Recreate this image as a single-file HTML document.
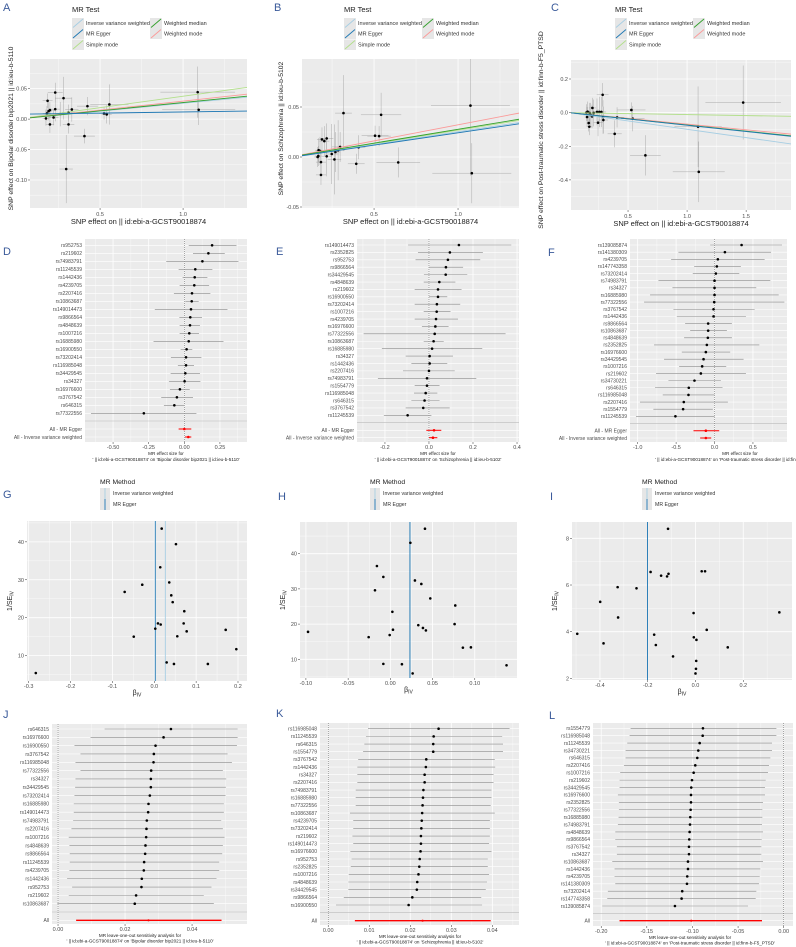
<!DOCTYPE html>
<html><head><meta charset="utf-8"><style>
html,body{margin:0;padding:0;background:#fff;}
svg{display:block;font-family:"Liberation Sans",sans-serif;}
</style></head><body>
<svg id="fig" width="796" height="947" viewBox="0 0 796 947" xmlns="http://www.w3.org/2000/svg"></svg>
<script>
// ---------- Scatter data ----------
const aX=[0.174,0.18,0.184,0.19,0.198,0.198,0.22,0.23,0.23,0.26,0.28,0.31,0.31,0.33,0.296,0.406,0.424,0.524,0.556,0.54,1.088,1.094];
const aY=[0.0011,0.0093,0.0301,0.0131,0.0148,-0.0087,0.0027,0.0437,0.0164,0.0082,0.0344,0.0109,-0.0087,0.0158,-0.082,-0.0279,0.0213,0.0093,0.024,0.0077,0.0443,0.0153];
const aXse=[0.02,0.025,0.03,0.02,0.03,0.025,0.03,0.045,0.03,0.03,0.05,0.04,0.035,0.04,0.04,0.063,0.063,0.03,0.115,0.03,0.225,0.22];
const aYse=[0.012,0.012,0.012,0.015,0.013,0.014,0.013,0.016,0.02,0.02,0.035,0.013,0.015,0.02,0.056,0.012,0.015,0.01,0.033,0.015,0.042,0.025];
const aSlope=[0.026,0.0038,0.0375,0.0272,0.0296];
const aInt=[0,0.0079,0,0,0];

const bX=[0.164,0.17,0.178,0.184,0.184,0.19,0.204,0.218,0.218,0.248,0.264,0.286,0.298,0.318,0.394,0.408,0.506,0.53,0.542,0.644,1.074,1.082,0.168,0.27];
const bY=[0,0.0068,0.0061,-0.0051,-0.0179,0.0176,0.0159,0.0007,0.0186,0.003,-0.0024,0.0068,0.0101,0.0439,-0.0068,0.0098,0.0213,0.0209,0.0422,-0.0054,0.0514,-0.0162,0.001,0.005];
const bXse=[0.02,0.02,0.025,0.03,0.03,0.03,0.03,0.03,0.04,0.04,0.04,0.04,0.05,0.05,0.05,0.04,0.08,0.07,0.12,0.13,0.235,0.235,0.02,0.03];
const bYse=[0.01,0.012,0.014,0.012,0.01,0.012,0.015,0.02,0.015,0.03,0.035,0.03,0.015,0.038,0.01,0.012,0.01,0.01,0.022,0.015,0.07,0.03,0.01,0.02];
const bSlope=[0.0253,0.0247,0.0268,0.0277,0.0322];
const bInt=[0,-0.0005,0,0,0];

const cX=[0.147,0.153,0.158,0.167,0.172,0.175,0.181,0.195,0.198,0.209,0.237,0.246,0.257,0.274,0.285,0.288,0.291,0.387,0.407,0.528,0.54,0.647,1.093,1.099,1.475];
const cY=[0,-0.026,0.006,-0.062,-0.084,-0.002,-0.012,-0.022,0.028,-0.002,0.004,-0.06,0.004,0.004,0.106,-0.026,-0.044,-0.126,-0.028,0.016,-0.036,-0.254,-0.084,-0.352,0.06];
const cXse=[0.02,0.02,0.02,0.02,0.02,0.02,0.03,0.03,0.03,0.03,0.04,0.04,0.04,0.04,0.05,0.04,0.04,0.06,0.06,0.12,0.1,0.13,0.2,0.22,0.32];
const cYse=[0.05,0.06,0.06,0.05,0.05,0.06,0.07,0.07,0.06,0.08,0.08,0.08,0.09,0.09,0.07,0.1,0.08,0.08,0.06,0.045,0.075,0.12,0.24,0.18,0.22];
const cSlope=[-0.099,-0.075,-0.0117,-0.0734,-0.068];
const cInt=[0,0,0,0,0];

// ---------- Forest data ----------
const dNames=["rs952753","rs219602","rs74983791","rs11245539","rs1442436","rs4239705","rs2207416","rs10863687","rs149014473","rs9866564","rs4848639","rs1007216","rs16885980","rs16900550","rs73202414","rs116985048","rs34429545","rs34327","rs16976600","rs3767542","rs646315","rs77322556"];
const dEst=[0.195,0.169,0.127,0.077,0.073,0.07,0.054,0.052,0.047,0.042,0.04,0.035,0.031,0.016,0.012,0.012,0.007,0.002,-0.031,-0.052,-0.07,-0.284];
const dLo=[0.031,0.061,-0.127,-0.04,-0.012,-0.033,-0.073,0.007,-0.207,-0.035,-0.033,-0.033,-0.216,-0.026,-0.094,-0.045,-0.096,-0.108,-0.101,-0.162,-0.143,-0.655];
const dHi=[0.366,0.284,0.38,0.197,0.162,0.174,0.183,0.101,0.303,0.124,0.11,0.103,0.275,0.056,0.12,0.068,0.11,0.113,0.038,0.061,0,0.085];
const dSumNames=["All - MR Egger","All - Inverse variance weighted"];
const dSumEst=[0,0.028];const dSumLo=[-0.04,0.005];const dSumHi=[0.049,0.049];

const eNames=["rs149014473","rs2352825","rs952753","rs9866564","rs34429545","rs4848639","rs219602","rs16900550","rs73202414","rs1007216","rs4239705","rs16976600","rs77322556","rs10863687","rs16885980","rs34327","rs1442436","rs2207416","rs74983791","rs1554779","rs116985048","rs646315","rs3767542","rs11245539"];
const eEst=[0.136,0.095,0.086,0.077,0.076,0.047,0.041,0.041,0.036,0.035,0.032,0.029,0.026,0.021,0.014,0.003,0.003,0,-0.009,-0.009,-0.015,-0.02,-0.026,-0.097];
const eLo=[-0.095,-0.05,-0.061,0,-0.023,-0.024,-0.065,0,-0.065,-0.024,-0.065,-0.032,-0.297,-0.024,-0.214,-0.106,-0.08,-0.118,-0.232,-0.065,-0.068,-0.08,-0.106,-0.205];
const eHi=[0.374,0.245,0.233,0.155,0.174,0.12,0.148,0.083,0.142,0.098,0.132,0.089,0.348,0.067,0.242,0.109,0.083,0.117,0.215,0.048,0.038,0.048,0.094,0.011];
const eSumNames=["All - MR Egger","All - Inverse variance weighted"];
const eSumEst=[0.023,0.018];const eSumLo=[-0.012,0];const eSumHi=[0.056,0.038];

const fNames=["rs139085874","rs141380309","rs4239705","rs147743358","rs73202414","rs74983791","rs34327","rs16885980","rs77322556","rs3767542","rs1442436","rs9866564","rs10863687","rs4848639","rs2352825","rs16976600","rs34429545","rs1007216","rs219602","rs34730221","rs646315","rs116985048","rs2207416","rs1554779","rs11245539"];
const fEst=[0.352,0.135,0.043,0.03,0.017,0,0,0,-0.004,-0.013,-0.013,-0.083,-0.083,-0.087,-0.1,-0.113,-0.143,-0.161,-0.178,-0.261,-0.335,-0.339,-0.4,-0.409,-0.509];
const fLo=[-0.057,-0.47,-0.565,-0.265,-0.283,-0.73,-0.548,-0.839,-0.917,-0.535,-0.491,-0.383,-0.317,-0.396,-0.787,-0.426,-0.657,-0.461,-0.761,-0.6,-0.774,-0.674,-0.97,-0.796,-1.022];
const fHi=[0.878,0.735,0.652,0.343,0.322,0.726,0.543,0.835,0.909,0.522,0.409,0.226,0.161,0.226,0.583,0.204,0.378,0.152,0.409,0.083,0.104,0,0.174,-0.022,0];
const fSumNames=["All - MR Egger","All - Inverse variance weighted"];
const fSumEst=[-0.113,-0.113];const fSumLo=[-0.274,-0.187];const fSumHi=[0.061,-0.043];

// ---------- Funnel data ----------
const gBeta=[-0.283,-0.0707,-0.049,-0.0287,0.0024,0.0088,0.0153,0.0143,0.0177,0.0358,0.0406,0.044,0.0518,0.055,0.0717,0.0702,0.0774,0.1706,0.196,0.0296,0.047,0.128];
const gInv=[5.4,26.8,15.0,28.7,17.1,18.5,18.2,33.3,43.5,29.3,25.9,24.1,39.4,15.1,21.7,18.5,16.4,16.8,11.7,8.2,7.8,7.8];
const gLines=[0.0264,0.0024];
const hBeta=[-0.0975,-0.0257,-0.0159,-0.0083,-0.0182,0.0024,0.0031,-0.0008,-0.0083,0.0137,0.0237,0.041,0.0291,0.0367,0.0473,0.0331,0.0386,0.0421,0.0264,0.0769,0.0761,0.0859,0.0954,0.1376];
const hInv=[17.8,16.3,36.5,33.4,29.6,23.5,18.4,16.9,8.7,8.6,43.1,47.1,32.4,31.4,27.3,19.7,18.9,18.2,6.0,25.3,20.0,13.3,13.4,8.3];
const hLines=[0.0232,0.0232];
const iBeta=[-0.495,-0.385,-0.399,-0.326,-0.324,-0.247,-0.188,-0.166,-0.173,-0.144,-0.119,-0.113,-0.115,-0.094,-0.008,-0.007,0.004,0.003,0.002,0.0,0.026,0.04,0.047,0.135,0.351];
const iInv=[3.91,3.5,5.28,5.91,4.61,5.86,6.56,3.43,3.87,6.4,6.37,6.48,8.41,2.94,4.8,3.76,3.65,2.75,2.41,2.21,6.59,6.59,4.08,3.33,4.83];
const iLines=[-0.201,-0.201];

// ---------- Leave-one-out data ----------
const jNames=["rs646315","rs16976600","rs16900550","rs3767542","rs116985048","rs77322556","rs34327","rs34429545","rs73202414","rs16885980","rs149014473","rs74983791","rs2207416","rs1007216","rs4848639","rs9866564","rs11245539","rs4239705","rs1442436","rs952753","rs219602","rs10863687"];
const jEst=[.0337,.0315,.0291,.0286,.0285,.0278,.0277,.0277,.0274,.027,.0269,.0265,.0264,.0263,.0261,.026,.0257,.0256,.025,.0249,.0233,.0229];
const jLo=[.0139,.0097,.0049,.0067,.0052,.0067,.0052,.0051,.0049,.0047,.0047,.0045,.004,.0032,.0034,.0035,.0035,.0034,.0027,.0042,.0032,-.0002];
const jHi=[.0536,.0536,.0534,.0506,.0519,.0492,.0502,.0501,.05,.0495,.0495,.0487,.0492,.0497,.0492,.049,.0481,.0481,.0473,.0458,.0435,.0465];
const jAll=[.027,.0054,.0488];

const kNames=["rs116985048","rs11245539","rs646315","rs1554779","rs3767542","rs1442436","rs34327","rs2207416","rs74983791","rs16885980","rs77322556","rs10863687","rs4239705","rs73202414","rs219602","rs149014473","rs16976600","rs952753","rs2352825","rs1007216","rs4848639","rs34429545","rs9866564","rs16900550"];
const kEst=[.0269,.0257,.0256,.0256,.0239,.0238,.0235,.0235,.0232,.0231,.023,.0229,.0228,.0227,.0226,.0226,.0225,.0223,.0222,.022,.0217,.0216,.0205,.0196];
const kLo=[.0097,.0092,.0088,.0085,.0073,.0071,.0071,.0071,.0067,.0067,.0067,.0053,.0061,.0061,.0059,.0061,.0054,.0057,.0055,.005,.0049,.0049,.0038,.0019];
const kHi=[.0442,.0424,.0426,.0426,.0406,.0407,.0403,.0403,.0398,.0398,.0396,.0406,.0394,.0394,.0394,.0392,.0398,.0389,.0389,.0392,.0387,.0384,.0373,.0375];
const kAll=[.023,.0065,.0396];

const lNames=["rs1554779","rs116985048","rs11245539","rs34730221","rs646315","rs2207416","rs1007216","rs219602","rs34429545","rs16976600","rs2352825","rs77322556","rs16885980","rs74983791","rs4848639","rs9866564","rs3767542","rs34327","rs10863687","rs1442436","rs4239705","rs141380309","rs73202414","rs147743358","rs139085874"];
const lEst=[-.0885,-.0888,-.0921,-.0936,-.0947,-.0969,-.0987,-.1005,-.1013,-.1016,-.1016,-.102,-.1024,-.1027,-.1031,-.1035,-.1038,-.1038,-.1049,-.1049,-.1057,-.106,-.1112,-.1119,-.1192];
const lLo=[-.1678,-.1689,-.1715,-.1733,-.1733,-.1751,-.1792,-.1799,-.1799,-.1817,-.1806,-.1806,-.181,-.1817,-.1846,-.1846,-.1828,-.1828,-.1879,-.1854,-.1854,-.1846,-.1927,-.1934,-.1989];
const lHi=[-.008,-.008,-.0128,-.0128,-.0146,-.0161,-.0172,-.0197,-.0205,-.0205,-.0227,-.0234,-.0234,-.0238,-.0227,-.0241,-.0245,-.0245,-.0227,-.0256,-.0263,-.0271,-.03,-.0307,-.0391];
const lAll=[-.1013,-.1799,-.0238];

// ---------- Tick arrays ----------
const aXt=[0.5,1.0],aXl=["0.5","1.0"],aYt=[-0.1,-0.05,0,0.05],aYl=["-0.10","-0.05","0.00","0.05"];
const bXt=[0.5,1.0],bXl=["0.5","1.0"],bYt=[-0.05,0,0.05],bYl=["-0.05","0.00","0.05"];
const cXt=[0.5,1.0,1.5],cXl=["0.5","1.0","1.5"],cYt=[-0.4,-0.2,0,0.2],cYl=["-0.4","-0.2","0.0","0.2"];
const dXt=[-0.5,-0.25,0,0.25],dXl=["-0.50","-0.25","0.00","0.25"];
const eXt=[-0.2,0,0.2,0.4],eXl=["-0.2","0.0","0.2","0.4"];
const fXt=[-1,-0.5,0,0.5],fXl=["-1.0","-0.5","0.0","0.5"];
const gXt=[-0.3,-0.2,-0.1,0,0.1,0.2],gXl=["-0.3","-0.2","-0.1","0.0","0.1","0.2"],gYt=[10,20,30,40],gYl=["10","20","30","40"];
const hXt=[-0.1,-0.05,0,0.05,0.1],hXl=["-0.10","-0.05","0.00","0.05","0.10"],hYt=[10,20,30,40],hYl=["10","20","30","40"];
const iXt=[-0.4,-0.2,0,0.2],iXl=["-0.4","-0.2","0.0","0.2"],iYt=[2,4,6,8],iYl=["2","4","6","8"];
const jXt=[0,0.02,0.04],jXl=["0.00","0.02","0.04"];
const kXt=[0,0.01,0.02,0.03,0.04],kXl=["0.00","0.01","0.02","0.03","0.04"];
const lXt=[-0.2,-0.15,-0.1,-0.05,0],lXl=["-0.20","-0.15","-0.10","-0.05","0.00"];

const NS="http://www.w3.org/2000/svg";
const svg=document.getElementById('fig');
function mk(tag,attrs,parent){const e=document.createElementNS(NS,tag);for(const k in attrs)e.setAttribute(k,attrs[k]);(parent||svg).appendChild(e);return e;}
function txt(s,x,y,size,anchor,fill,parent){const t=mk('text',{x:x,y:y,'font-size':size,'text-anchor':anchor||'start',fill:fill||'#4d4d4d'},parent);t.textContent=s;return t;}
function lin(d0,d1,r0,r1){return v=>r0+(v-d0)*(r1-r0)/(d1-d0);}
function minors(t,d0,d1){const m=[];const lo=Math.min(d0,d1),hi=Math.max(d0,d1);for(let i=0;i<t.length-1;i++)m.push((t[i]+t[i+1])/2);if(t.length>1){const s=t[1]-t[0];m.push(t[0]-s/2);m.push(t[t.length-1]+s/2);}return m.filter(v=>v>lo&&v<hi);}
let clipId=0;
function panel(name,x0,y0,x1,y1){const g=mk('g',{});
 const r=mk('rect',{x:x0,y:y0,width:x1-x0,height:y1-y0,fill:'#EBEBEB'},g);
 const id='c'+(clipId++);const cp=mk('clipPath',{id:id},g);mk('rect',{x:x0,y:y0,width:x1-x0,height:y1-y0},cp);
 const inner=mk('g',{'clip-path':'url(#'+id+')'},g);return {g:g,inner:inner};}
function letter(s,x,y){const t=txt(s,x,y,11,'start','#3a5a9a');}
function vgrid(p,xs,xt,d0,d1,y0,y1){minors(xt,d0,d1).forEach(v=>mk('line',{x1:xs(v),x2:xs(v),y1:y0,y2:y1,stroke:'#fff','stroke-width':0.35},p.inner));xt.forEach(v=>mk('line',{x1:xs(v),x2:xs(v),y1:y0,y2:y1,stroke:'#fff','stroke-width':0.8},p.inner));}
function hgrid(p,ys,yt,d0,d1,x0,x1){minors(yt,d0,d1).forEach(v=>mk('line',{x1:x0,x2:x1,y1:ys(v),y2:ys(v),stroke:'#fff','stroke-width':0.35},p.inner));yt.forEach(v=>mk('line',{x1:x0,x2:x1,y1:ys(v),y2:ys(v),stroke:'#fff','stroke-width':0.8},p.inner));}
function xticks(xs,xt,xl,y1,ty){xt.forEach((v,i)=>{mk('line',{x1:xs(v),x2:xs(v),y1:y1,y2:y1+2,stroke:'#333','stroke-width':0.5});const t=txt(xl[i],xs(v),ty,5.5,'middle');});}
function yticks(ys,yt,yl,x0){yt.forEach((v,i)=>{mk('line',{x1:x0-2,x2:x0,y1:ys(v),y2:ys(v),stroke:'#333','stroke-width':0.5});const t=txt(yl[i],x0-3,ys(v)+2,5.5,'end');});}
function vtitle(s,x,y,size){const t=mk('text',{x:0,y:0,'font-size':size,'text-anchor':'middle',fill:'#222',transform:'translate('+x+','+y+') rotate(-90)'});t.textContent=s;return t;}

const COLS=['#a6cee3','#1f78b4','#b2df8a','#33a02c','#fb9a99'];
const LNAMES=['Inverse variance weighted','MR Egger','Simple mode','Weighted median','Weighted mode'];

function scatterLegend(x,y,c2){const t=txt('MR Test',x,y,7.5,'start','#222');
 const pos=[[x,y+12],[x,y+22.5],[x,y+33.5],[c2,y+12],[c2,y+22.5]];
 pos.forEach((p,i)=>{const g=mk('g',{});
  mk('rect',{x:p[0],y:p[1]-6,width:12,height:10.5,fill:'#e6e6e6'},g);
  mk('line',{x1:p[0]+1,y1:p[1]+3.5,x2:p[0]+11,y2:p[1]-5,stroke:COLS[i],'stroke-width':0.9},g);
  txt(LNAMES[i],p[0]+14,p[1]+1,5.5,'start','#333',g);});}

function scatter(name,px0,py0,px1,py1,xd,yd,X,Y,Xse,Yse,sl,ic,xt,xl,yt,yl,ytitle,ytx){
 const p=panel(name,px0,py0,px1,py1);const xs=lin(xd[0],xd[1],px0,px1),ys=lin(yd[0],yd[1],py1,py0);
 vgrid(p,xs,xt,xd[0],xd[1],py0,py1);hgrid(p,ys,yt,yd[0],yd[1],px0,px1);
 X.forEach((v,i)=>{const e1=mk('line',{x1:xs(v-Xse[i]),x2:xs(v+Xse[i]),y1:ys(Y[i]),y2:ys(Y[i]),stroke:'#9a9a9a','stroke-width':0.5,opacity:0.8},p.inner);
  const e2=mk('line',{x1:xs(v),x2:xs(v),y1:ys(Y[i]-Yse[i]),y2:ys(Y[i]+Yse[i]),stroke:'#9a9a9a','stroke-width':0.5,opacity:0.8},p.inner);});
 X.forEach((v,i)=>{const c=mk('circle',{cx:xs(v),cy:ys(Y[i]),r:1.3,fill:'#000'},p.inner);});
 [0,2,4,3,1].forEach(k=>{const l=mk('line',{x1:xs(xd[0]),x2:xs(xd[1]),y1:ys(ic[k]+sl[k]*xd[0]),y2:ys(ic[k]+sl[k]*xd[1]),stroke:COLS[k],'stroke-width':0.9},p.inner);});
 xticks(xs,xt,xl,py1,py1+8);yticks(ys,yt,yl,px0);
 const t=txt('SNP effect on  || id:ebi-a-GCST90018874',(px0+px1)/2,py1+16,7.5,'middle','#222');
 vtitle(ytitle,ytx,(py0+py1)/2-5,6.8);}

function forest(name,px0,py0,px1,py1,xd,names,est,lo,hi,snames,sest,slo,shi,firstY,lastY,sepY,sumY,xt,xl,cap2,capX){
 const p=panel(name,px0,py0,px1,py1);const xs=lin(xd[0],xd[1],px0,px1);
 vgrid(p,xs,xt,xd[0],xd[1],py0,py1);
 const n=names.length,step=(lastY-firstY)/(n-1);
 const ry=i=>firstY+i*step;
 for(let i=0;i<n;i++)mk('line',{x1:px0,x2:px1,y1:ry(i),y2:ry(i),stroke:'#fff','stroke-width':0.6},p.inner);
 sumY.forEach(y=>mk('line',{x1:px0,x2:px1,y1:y,y2:y,stroke:'#fff','stroke-width':0.6},p.inner));
 mk('line',{x1:px0,x2:px1,y1:sepY,y2:sepY,stroke:'#bbb','stroke-width':0.6},p.inner);
 mk('line',{x1:xs(0),x2:xs(0),y1:py0,y2:py1,stroke:'#555','stroke-width':0.5,'stroke-dasharray':'1,1'},p.inner);
 names.forEach((nm,i)=>{const y=ry(i);const b=mk('line',{x1:xs(lo[i]),x2:xs(hi[i]),y1:y,y2:y,stroke:'#8a8a8a','stroke-width':0.6},p.inner);
  const c=mk('circle',{cx:xs(est[i]),cy:y,r:1.3,fill:'#000'},p.inner);
  const t=txt(nm,px0-3,y+1.8,5,'end');});
 snames.forEach((nm,i)=>{const y=sumY[i];const b=mk('line',{x1:xs(slo[i]),x2:xs(shi[i]),y1:y,y2:y,stroke:'#f00','stroke-width':1},p.inner);
  const c=mk('circle',{cx:xs(sest[i]),cy:y,r:1.3,fill:'#f00'},p.inner);
  const t=txt(nm,px0-3,y+1.8,5,'end');});
 xticks(xs,xt,xl,py1,py1+7);
 const t1=txt('MR effect size for',capX,py1+13,4.6,'middle','#222');
 const t2=txt(cap2,capX,py1+19,4.6,'middle','#222');}

function funnelLegend(x,y){const t=txt('MR Method',x,y,6.8,'start','#222');
 ['Inverse variance weighted','MR Egger'].forEach((s,i)=>{const g=mk('g',{});
  mk('rect',{x:x,y:y+4+i*11,width:10,height:11,fill:'#e6e6e6'},g);
  mk('line',{x1:x+5,x2:x+5,y1:y+4+i*11,y2:y+15+i*11,stroke:COLS[i],'stroke-width':0.9},g);
  txt(s,x+13,y+11+i*11,5.2,'start','#333',g);});}

function funnel(name,px0,py0,px1,py1,xd,yd,B,V,lines,xt,xl,yt,yl){
 const p=panel(name,px0,py0,px1,py1);const xs=lin(xd[0],xd[1],px0,px1),ys=lin(yd[0],yd[1],py1,py0);
 vgrid(p,xs,xt,xd[0],xd[1],py0,py1);hgrid(p,ys,yt,yd[0],yd[1],px0,px1);
 lines.forEach((v,i)=>{const l=mk('line',{x1:xs(v),x2:xs(v),y1:py0,y2:py1,stroke:COLS[i],'stroke-width':0.9},p.inner);});
 B.forEach((v,i)=>{const c=mk('circle',{cx:xs(v),cy:ys(V[i]),r:1.3,fill:'#000'},p.inner);});
 xticks(xs,xt,xl,py1,py1+7);yticks(ys,yt,yl,px0);
 const t=mk('text',{x:(px0+px1)/2,y:py1+14,'font-size':7,'text-anchor':'middle',fill:'#222'});t.innerHTML='β<tspan font-size="5" dy="1.5">IV</tspan>';
 const v=mk('text',{x:0,y:0,'font-size':7,'text-anchor':'middle',fill:'#222',transform:'translate('+(px0-15)+','+((py0+py1)/2)+') rotate(-90)'});v.innerHTML='1/SE<tspan font-size="5" dy="1.5">IV</tspan>';}

function loo(name,px0,py0,px1,py1,xd,names,est,lo,hi,all,firstY,lastY,sepY,allY,xt,xl,cap2,capX){
 const p=panel(name,px0,py0,px1,py1);const xs=lin(xd[0],xd[1],px0,px1);
 vgrid(p,xs,xt,xd[0],xd[1],py0,py1);
 const n=names.length,step=(lastY-firstY)/(n-1);const ry=i=>firstY+i*step;
 for(let i=0;i<n;i++)mk('line',{x1:px0,x2:px1,y1:ry(i),y2:ry(i),stroke:'#fff','stroke-width':0.6},p.inner);
 mk('line',{x1:px0,x2:px1,y1:allY,y2:allY,stroke:'#fff','stroke-width':0.6},p.inner);
 mk('line',{x1:px0,x2:px1,y1:sepY,y2:sepY,stroke:'#bbb','stroke-width':0.6},p.inner);
 mk('line',{x1:xs(0),x2:xs(0),y1:py0,y2:py1,stroke:'#555','stroke-width':0.5,'stroke-dasharray':'1,1'},p.inner);
 names.forEach((nm,i)=>{const y=ry(i);const b=mk('line',{x1:xs(lo[i]),x2:xs(hi[i]),y1:y,y2:y,stroke:'#8a8a8a','stroke-width':0.6},p.inner);
  const c=mk('circle',{cx:xs(est[i]),cy:y,r:1.3,fill:'#000'},p.inner);
  const t=txt(nm,px0-3,y+1.8,5,'end');});
 const b=mk('line',{x1:xs(all[1]),x2:xs(all[2]),y1:allY,y2:allY,stroke:'#f00','stroke-width':1.4},p.inner);
 const c=mk('circle',{cx:xs(all[0]),cy:allY,r:1.1,fill:'#f00'},p.inner);
 const t=txt('All',px0-3,allY+1.8,5,'end');
 xticks(xs,xt,xl,py1,py1+7);
 const t1=txt('MR leave-one-out sensitivity analysis for',capX,py1+13,4.6,'middle','#222');
 const t2=txt(cap2,capX,py1+18.5,4.6,'middle','#222');}

// ---- Row 1 ----
letter('A',3,11);letter('B',274,11);letter('C',551,11);
scatterLegend(72,12,150);scatterLegend(344,12,422);scatterLegend(615,12,693);
scatter('scatter-a',30,59,247,208,[0.078,1.385],[-0.146,0.0987],aX,aY,aXse,aYse,aSlope,aInt,aXt,aXl,aYt,aYl,'SNP effect on Bipolar disorder bip2021 || id:ieu-b-5110',13);
scatter('scatter-b',302,59,519,208,[0.071,1.363],[-0.051,0.098],bX,bY,bXse,bYse,bSlope,bInt,bXt,bXl,bYt,bYl,'SNP effect on Schizophrenia || id:ieu-b-5102',283);
scatter('scatter-c',571,60,791,210,[0.017,1.88],[-0.579,0.313],cX,cY,cXse,cYse,cSlope,cInt,cXt,cXl,cYt,cYl,'SNP effect on Post-traumatic stress disorder || id:finn-b-F5_PTSD',543);

// ---- Row 2 ----
letter('D',3,255);letter('E',276,255);letter('F',548,256);
forest('forest-d',85,239,247,442,[-0.697,0.44],dNames,dEst,dLo,dHi,dSumNames,dSumEst,dSumLo,dSumHi,245.3,413.3,421,[429,437],dXt,dXl,"' || id:ebi-a-GCST90018874' on 'Bipolar disorder bip2021 || id:ieu-b-5110'",166);
forest('forest-e',357,239,519,442,[-0.327,0.409],eNames,eEst,eLo,eHi,eSumNames,eSumEst,eSumLo,eSumHi,245,415.3,422.7,[430.3,437.7],eXt,eXl,"' || id:ebi-a-GCST90018874' on 'Schizophrenia || id:ieu-b-5102'",438);
forest('forest-f',630,239,787,442,[-1.1,0.943],fNames,fEst,fLo,fHi,fSumNames,fSumEst,fSumLo,fSumHi,245,416.3,423.3,[430.7,438],fXt,fXl,"' || id:ebi-a-GCST90018874' on 'Post-traumatic stress disorder || id:finn-b-F5_PTSD'",740);

// ---- Row 3 ----
letter('G',3,498);letter('H',278,500);letter('I',550,500);
funnelLegend(100,484);funnelLegend(370,484);funnelLegend(642,484);
funnel('funnel-g',27,521,247,681,[-0.304,0.2215],[3.3,45.5],gBeta,gInv,gLines,gXt,gXl,gYt,gYl);
funnel('funnel-h',300,522,517,678,[-0.107,0.15],[4.69,49.0],hBeta,hInv,hLines,hXt,hXl,hYt,hYl);
funnel('funnel-i',572,522,792,680,[-0.517,0.404],[1.93,8.70],iBeta,iInv,iLines,iXt,iXl,iYt,iYl);

// ---- Row 4 ----
letter('J',3,718);letter('K',276,717);letter('L',549,719);
loo('loo-j',52,724,247,924,[-0.0018,0.0564],jNames,jEst,jLo,jHi,jAll,729,903.7,912,920.3,jXt,jXl,"' || id:ebi-a-GCST90018874' on 'Bipolar disorder bip2021 || id:ieu-b-5110'",140);
loo('loo-k',320,723,519,925,[-0.002,0.0465],kNames,kEst,kLo,kHi,kAll,728.7,905,912.3,920.7,kXt,kXl,"' || id:ebi-a-GCST90018874' on 'Schizophrenia || id:ieu-b-5102'",420);
loo('loo-l',593,723,793,926,[-0.209,0.0102],lNames,lEst,lLo,lHi,lAll,728.3,906,913.3,920.7,lXt,lXl,"' || id:ebi-a-GCST90018874' on 'Post-traumatic stress disorder || id:finn-b-F5_PTSD'",690);
</script>
</body></html>
